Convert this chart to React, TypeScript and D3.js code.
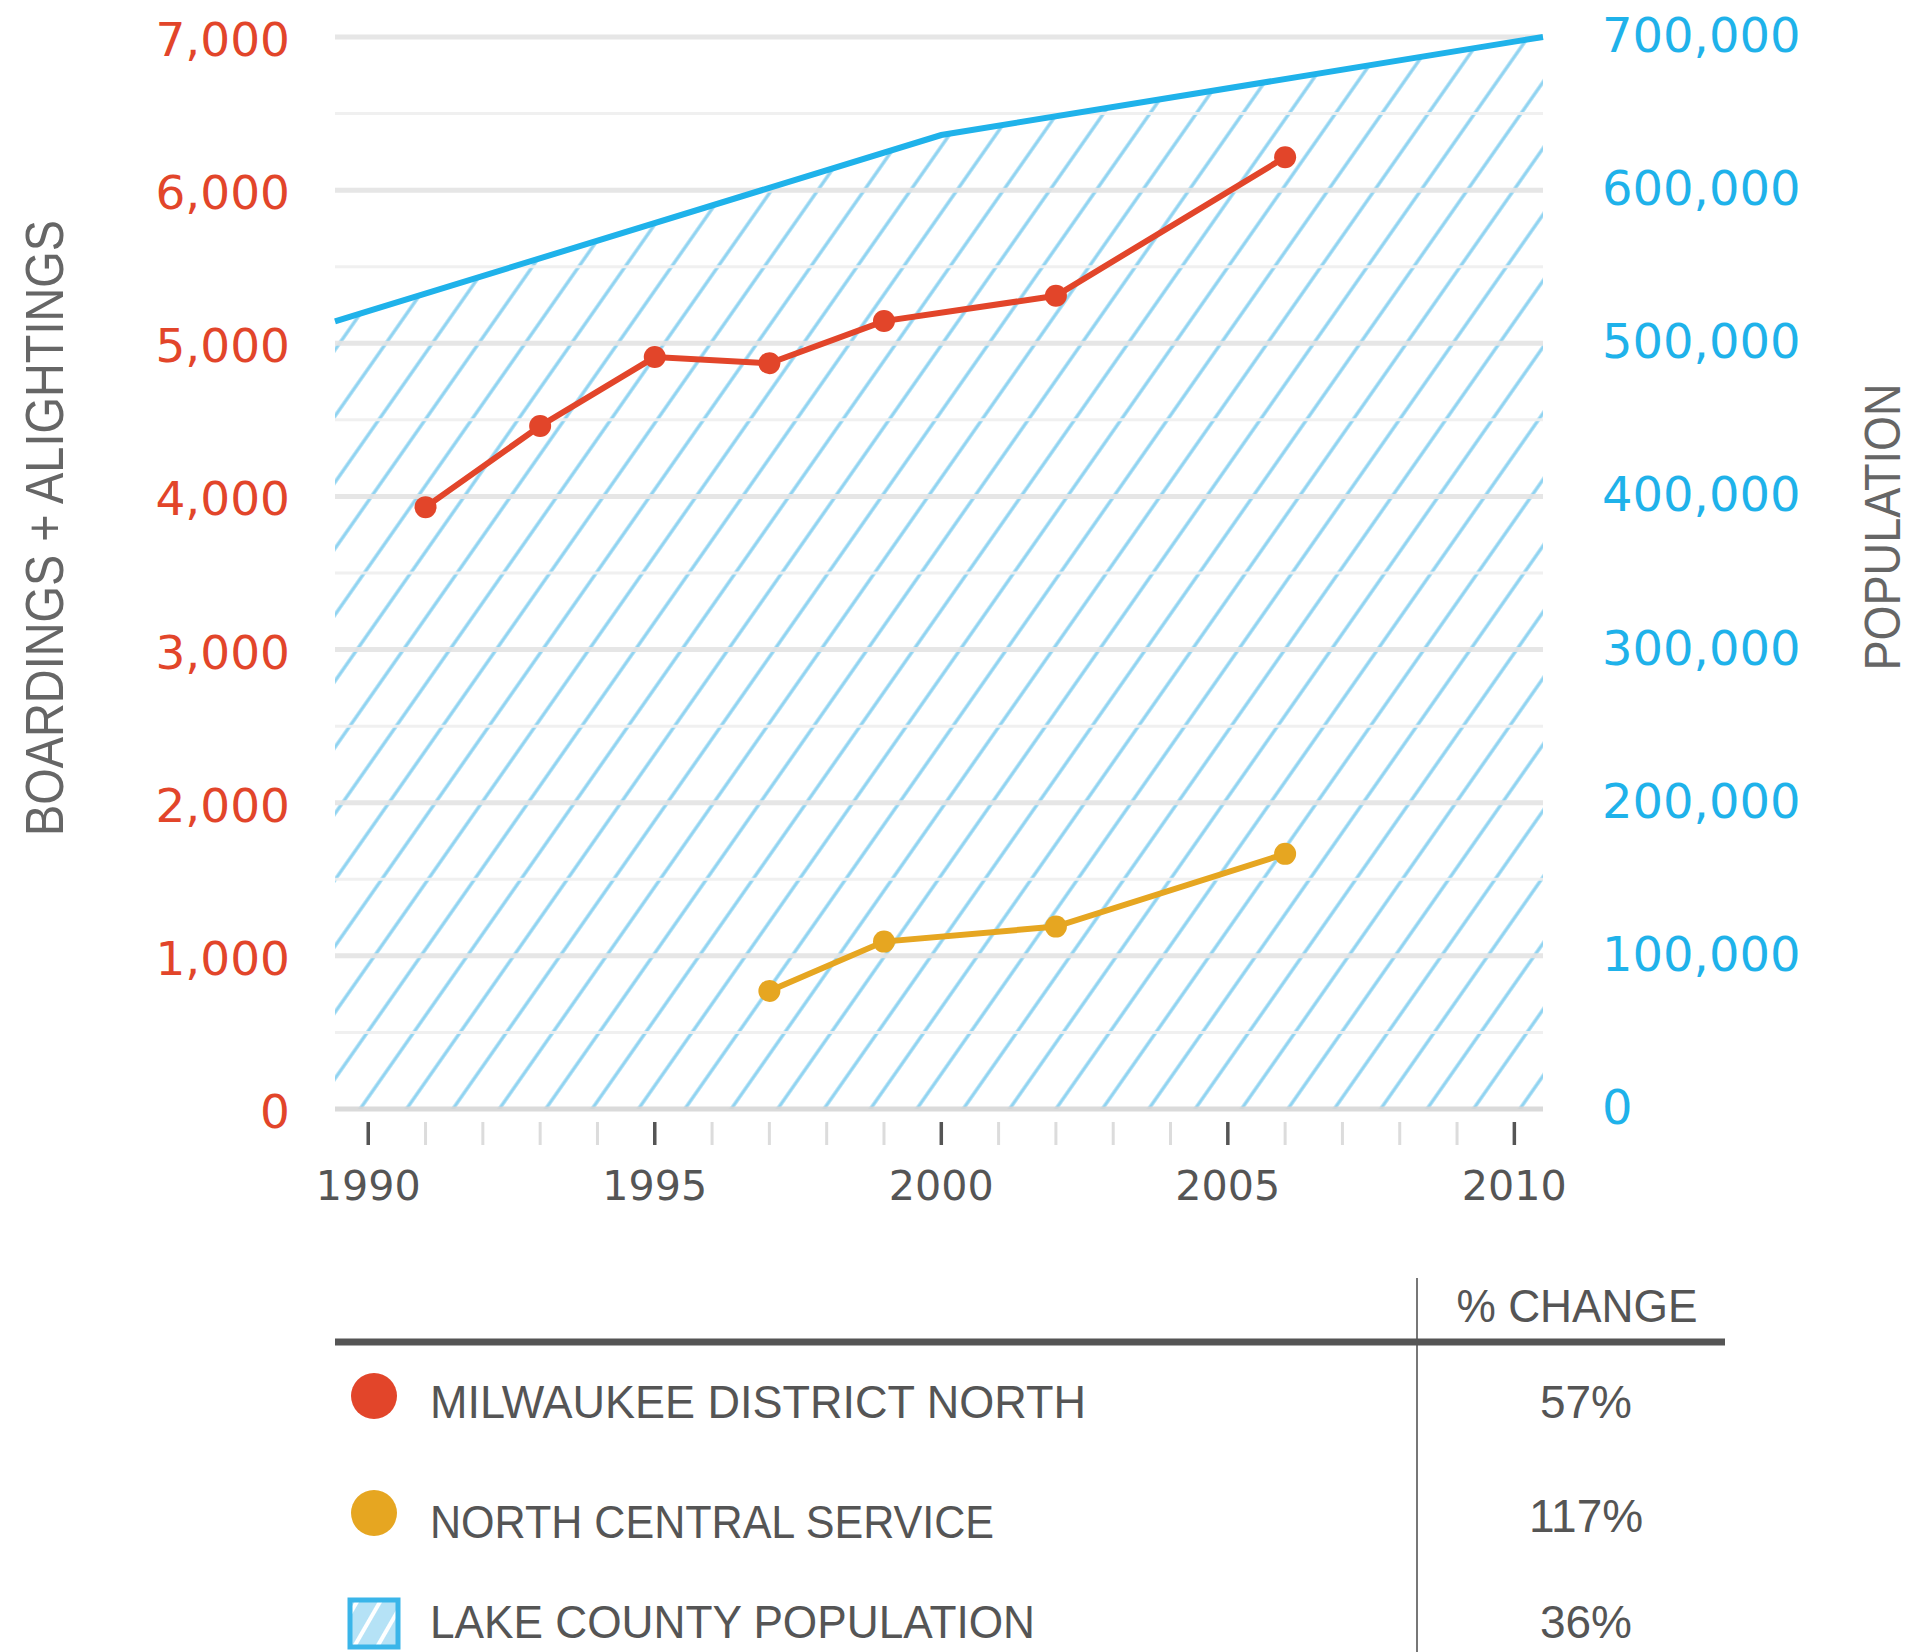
import React from "react";
import * as d3 from "d3";

// ridership (left axis) and population (right axis)
const ridershipTicks = [0, 1000, 2000, 3000, 4000, 5000, 6000, 7000];
const populationTicks = [0, 100000, 200000, 300000, 400000, 500000, 600000, 700000];
const yearTicks = [1990, 1995, 2000, 2005, 2010];

const mdnYears = [1991, 1993, 1995, 1997, 1999, 2002, 2006];
const mdnValues = [3930, 4460, 4910, 4870, 5145, 5310, 6215];

const ncsYears = [1997, 1999, 2002, 2006];
const ncsValues = [771, 1093, 1191, 1666];

const popYears = [1990, 2000, 2010];
const popValues = [521000, 636000, 697000];

const legendLabels = ["MILWAUKEE DISTRICT NORTH", "NORTH CENTRAL SERVICE", "LAKE COUNTY POPULATION"];
const legendChanges = ["57%", "117%", "36%"];
const legendLengths = [656, 564, 605];

const RED = "#e2452a";
const GOLD = "#e6a621";
const BLUE = "#1fb2ea";
const HATCH = "#8fd3f1";
const GREY = "#555";

const W = 1913;
const H = 1652;
const plot = { left: 335, right: 1543, top: 37, bottom: 1109 };

// carry the first/last population segment out to the plot edges
function toEdges(xs: number[], vs: number[], lo: number, hi: number): [number, number][] {
  const n = xs.length;
  const s0 = (vs[1] - vs[0]) / (xs[1] - xs[0]);
  const s1 = (vs[n - 1] - vs[n - 2]) / (xs[n - 1] - xs[n - 2]);
  return [
    [lo, vs[0] + s0 * (lo - xs[0])],
    ...xs.map((x, i) => [x, vs[i]] as [number, number]),
    [hi, vs[n - 1] + s1 * (hi - xs[n - 1])],
  ];
}

export default function App() {
  const x = d3.scaleLinear().domain([1989.42, 2010.5]).range([plot.left, plot.right]);
  const y = d3.scaleLinear().domain([0, 7000]).range([plot.bottom, plot.top]);
  const y2 = d3.scaleLinear().domain([0, 700000]).range([plot.bottom, plot.top]);

  const [lo, hi] = x.domain();
  const popPts = toEdges(popYears, popValues, lo, hi);

  const popArea = d3
    .area<[number, number]>()
    .x((d) => x(d[0]))
    .y0(y2(0))
    .y1((d) => y2(d[1]))(popPts);
  const popLine = d3
    .line<[number, number]>()
    .x((d) => x(d[0]))
    .y((d) => y2(d[1]))(popPts);

  const mdnPath = d3
    .line<number>()
    .x((_, i) => x(mdnYears[i]))
    .y((d) => y(d))(mdnValues);
  const ncsPath = d3
    .line<number>()
    .x((_, i) => x(ncsYears[i]))
    .y((d) => y(d))(ncsValues);

  const grid = d3.range(0, 7001, 500);
  const years = d3.range(1990, 2011);
  const fmt = d3.format(",");

  const rowY = [1396, 1513, 1623];

  return (
    <svg
      width={W}
      height={H}
      style={{ position: "absolute", left: 0, top: 0, background: "#fff" }}
    >
      <defs>
        <pattern
          id="hatch"
          patternUnits="userSpaceOnUse"
          width={38}
          height={38}
          patternTransform="rotate(35)"
        >
          <rect x={17.4} y={0} width={3.3} height={38} fill={HATCH} />
        </pattern>
        <pattern
          id="hatchIcon"
          patternUnits="userSpaceOnUse"
          width={20}
          height={20}
          patternTransform="rotate(30)"
        >
          <rect width={20} height={20} fill="#b5e2f6" />
          <rect x={8} y={0} width={4} height={20} fill="#fff" />
        </pattern>
      </defs>

      {/* population area */}
      <path d={popArea ?? ""} fill="url(#hatch)" />

      {/* gridlines */}
      {grid.map((g) => (
        <line
          key={g}
          x1={plot.left}
          x2={plot.right}
          y1={y(g)}
          y2={y(g)}
          stroke={g === 0 ? "#d6d6d6" : g % 1000 === 0 ? "#e4e4e4" : "#efefef"}
          strokeWidth={g % 1000 === 0 ? 5 : 3}
          opacity={0.9}
        />
      ))}

      <path d={popLine ?? ""} fill="none" stroke={BLUE} strokeWidth={6} />

      {/* ridership lines */}
      <path d={mdnPath ?? ""} fill="none" stroke={RED} strokeWidth={6} />
      {mdnValues.map((v, i) => (
        <circle key={i} cx={x(mdnYears[i])} cy={y(v)} r={11} fill={RED} />
      ))}
      <path d={ncsPath ?? ""} fill="none" stroke={GOLD} strokeWidth={6} />
      {ncsValues.map((v, i) => (
        <circle key={i} cx={x(ncsYears[i])} cy={y(v)} r={11} fill={GOLD} />
      ))}

      {/* x ticks */}
      {years.map((yr) => (
        <line
          key={yr}
          x1={x(yr)}
          x2={x(yr)}
          y1={1122}
          y2={1145}
          stroke={yr % 5 === 0 ? "#555" : "#dcdcdc"}
          strokeWidth={yr % 5 === 0 ? 3.5 : 3}
        />
      ))}
      {yearTicks.map((yr) => (
        <text
          key={yr}
          x={x(yr)}
          y={1200}
          textAnchor="middle"
          fontFamily="DejaVu Sans"
          fontSize={41}
          fill={GREY}
          textLength={105}
          lengthAdjust="spacingAndGlyphs"
        >
          {yr}
        </text>
      ))}

      {/* left axis */}
      {ridershipTicks.map((t) => (
        <text
          key={t}
          x={290}
          y={y(t) + 19}
          textAnchor="end"
          fontFamily="DejaVu Sans"
          fontSize={47}
          fill={RED}
        >
          {fmt(t)}
        </text>
      ))}
      {/* right axis */}
      {populationTicks.map((t) => (
        <text
          key={t}
          x={1602}
          y={y2(t) + 15}
          textAnchor="start"
          fontFamily="DejaVu Sans"
          fontSize={48}
          fill={BLUE}
        >
          {fmt(t)}
        </text>
      ))}

      <text
        transform="translate(63,528) rotate(-90)"
        textAnchor="middle"
        fontFamily="Liberation Sans"
        fontSize={54}
        fill="#666"
        textLength={616}
        lengthAdjust="spacingAndGlyphs"
      >
        BOARDINGS + ALIGHTINGS
      </text>
      <text
        transform="translate(1900,527) rotate(-90)"
        textAnchor="middle"
        fontFamily="Liberation Sans"
        fontSize={50}
        fill="#666"
        textLength={287}
        lengthAdjust="spacingAndGlyphs"
      >
        POPULATION
      </text>

      {/* legend table */}
      <line x1={1417} x2={1417} y1={1278} y2={H} stroke="#777" strokeWidth={2} />
      <line x1={335} x2={1725} y1={1342} y2={1342} stroke="#555" strokeWidth={7} />
      <text
        x={1577}
        y={1322}
        textAnchor="middle"
        fontFamily="Liberation Sans"
        fontSize={46}
        fill={GREY}
        textLength={241}
        lengthAdjust="spacingAndGlyphs"
      >
        % CHANGE
      </text>
      <circle cx={374} cy={rowY[0]} r={23} fill={RED} />
      <circle cx={374} cy={rowY[1]} r={23} fill={GOLD} />
      <rect
        x={350}
        y={1600}
        width={48}
        height={47}
        fill="url(#hatchIcon)"
        stroke="#3ab5e9"
        strokeWidth={5}
      />
      {legendLabels.map((l, i) => (
        <text
          key={l}
          x={430}
          y={[1418, 1538, 1638][i]}
          fontFamily="Liberation Sans"
          fontSize={46}
          fill={GREY}
          textLength={legendLengths[i]}
          lengthAdjust="spacingAndGlyphs"
        >
          {l}
        </text>
      ))}
      {legendChanges.map((c, i) => (
        <text
          key={c}
          x={1586}
          y={[1418, 1532, 1638][i]}
          textAnchor="middle"
          fontFamily="Liberation Sans"
          fontSize={46}
          fill={GREY}
        >
          {c}
        </text>
      ))}
    </svg>
  );
}
